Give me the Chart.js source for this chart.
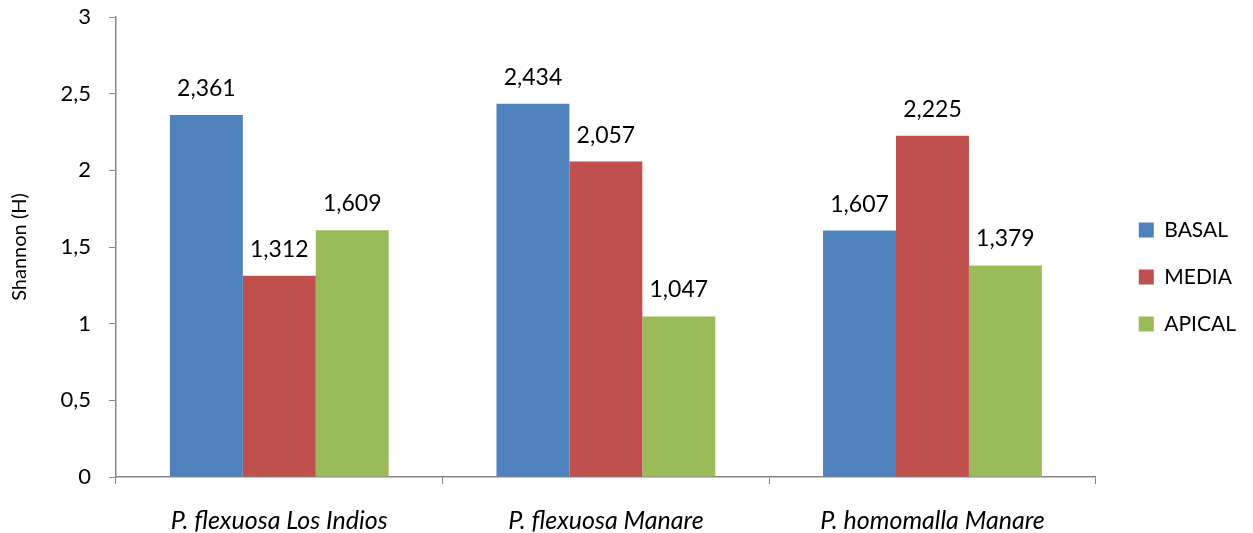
<!DOCTYPE html>
<html>
<head>
<meta charset="utf-8">
<script src="https://cdn.jsdelivr.net/npm/chart.js@4/dist/chart.umd.min.js"></script>
<style>
  html, body { margin: 0; padding: 0; background: #fff; }
</style>
</head>
<body>
<canvas id="myChart" width="1253" height="533"></canvas>
<script>
Chart.defaults.font.family = "Lato";
Chart.defaults.color = "#000";

const categories = [
  "P. flexuosa Los Indios",
  "P. flexuosa Manare",
  "P. homomalla Manare",
];
const basal = [2.361, 2.434, 1.607];
const media = [1.312, 2.057, 2.225];
const apical = [1.609, 1.047, 1.379];
const yTicks = [0, 0.5, 1, 1.5, 2, 2.5, 3];

const fmt = (v, d) => v.toFixed(d).replace(".", ",");

// value labels above each bar
const barLabels = {
  id: "barLabels",
  afterDatasetsDraw(chart) {
    const ctx = chart.ctx;
    ctx.save();
    ctx.font = "23px Lato";
    ctx.fillStyle = "#000";
    ctx.textAlign = "center";
    ctx.textBaseline = "bottom";
    chart.data.datasets.forEach((ds, i) => {
      chart.getDatasetMeta(i).data.forEach((bar, j) => {
        ctx.fillText(fmt(ds.data[j], 3), bar.x, bar.y - 15);
      });
    });
    ctx.restore();
  },
};

// push the legend a bit away from the plot
const legendShift = {
  id: "legendShift",
  afterLayout(chart) {
    const lg = chart.legend;
    lg.left += 17;
    lg.right += 17;
    lg.top += 2;
    lg.bottom += 2;
  },
};

const ctx = document.getElementById("myChart");
const myChart = new Chart(ctx, {
  type: "bar",
  data: {
    labels: categories,
    datasets: [
      { label: "BASAL", data: basal, backgroundColor: "#4F81BD" },
      { label: "MEDIA", data: media, backgroundColor: "#C0504D" },
      { label: "APICAL", data: apical, backgroundColor: "#9BBB59" },
    ],
  },
  options: {
    responsive: false,
    animation: false,
    categoryPercentage: 0.67,
    barPercentage: 1,
    layout: {
      padding: { top: 17, right: 24, bottom: 0, left: 8 },
    },
    plugins: {
      legend: {
        position: "right",
        labels: {
          boxWidth: 15,
          boxHeight: 15,
          padding: 26,
          font: { size: 21 },
        },
      },
      tooltip: { enabled: false },
    },
    scales: {
      y: {
        min: 0,
        max: 3,
        afterBuildTicks(axis) {
          axis.ticks = yTicks.map((v) => ({ value: v }));
        },
        afterFit(axis) {
          axis.width = 108;
          axis.paddingTop = 0;
          axis.paddingBottom = 0;
        },
        ticks: {
          font: { size: 22 },
          padding: 18,
          callback: (v) => String(v).replace(".", ","),
        },
        grid: {
          drawOnChartArea: false,
          tickLength: 7,
          color: "#868686",
        },
        border: { color: "#868686", width: 1.5 },
        title: {
          display: true,
          text: "Shannon (H)",
          font: { size: 20 },
          padding: { top: 0, bottom: 0 },
        },
      },
      x: {
        afterFit(axis) {
          axis.height = 56;
        },
        ticks: {
          font: { size: 25, style: "italic" },
          padding: 22,
        },
        grid: {
          offset: true,
          drawOnChartArea: false,
          tickLength: 7,
          color: "#868686",
        },
        border: { color: "#868686", width: 1.5 },
      },
    },
  },
  plugins: [barLabels, legendShift],
});
</script>
</body>
</html>
